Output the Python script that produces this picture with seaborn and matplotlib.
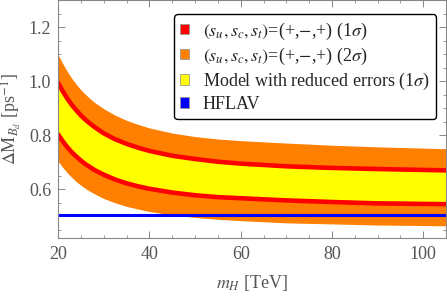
import numpy as np
import pandas as pd
import matplotlib
matplotlib.use("Agg")
import matplotlib.pyplot as plt
from matplotlib.patches import Patch
from matplotlib.ticker import MultipleLocator, FormatStrFormatter
import seaborn as sns

# values (m_H in TeV, Delta M_Bd in ps^-1)
m_H = [20, 21, 22, 23, 24, 25, 26, 27, 28, 30, 32.5, 35, 37.5, 40, 45, 50, 55, 60, 70, 80, 90, 105]
band2_upper = [1.098, 1.065, 1.036, 1.010, 0.988, 0.968, 0.951, 0.935, 0.921, 0.898, 0.874, 0.855,
               0.840, 0.827, 0.808, 0.795, 0.786, 0.780, 0.771, 0.763, 0.757, 0.750]
band1_upper = [0.994, 0.963, 0.936, 0.912, 0.892, 0.873, 0.857, 0.843, 0.830, 0.807, 0.785, 0.768,
               0.754, 0.742, 0.724, 0.712, 0.702, 0.695, 0.685, 0.679, 0.675, 0.670]
band1_lower = [0.803, 0.778, 0.756, 0.737, 0.721, 0.706, 0.693, 0.682, 0.671, 0.654, 0.636, 0.622,
               0.611, 0.602, 0.588, 0.578, 0.571, 0.567, 0.559, 0.553, 0.548, 0.545]
band2_lower = [0.704, 0.681, 0.661, 0.644, 0.628, 0.615, 0.603, 0.592, 0.583, 0.566, 0.550, 0.537,
               0.527, 0.518, 0.505, 0.496, 0.489, 0.484, 0.476, 0.472, 0.468, 0.465]
hflav = 0.5065

legend_labels = [
    r"$(s_u, s_c, s_t)$=(+,$-$,+) (1$\sigma$)",
    r"$(s_u, s_c, s_t)$=(+,$-$,+) (2$\sigma$)",
    r"Model with reduced errors (1$\sigma$)",
    "HFLAV",
]
colors = ["#ff0000", "#ff8000", "#ffff00", "#0000ff"]

df = pd.DataFrame({"m_H": m_H, "up2": band2_upper, "up1": band1_upper,
                   "lo1": band1_lower, "lo2": band2_lower})
lines = df.melt(id_vars="m_H", value_vars=["up1", "lo1"], var_name="edge", value_name="dM")

sns.set_theme(style="ticks")
plt.rcParams["font.family"] = "serif"
plt.rcParams["font.serif"] = ["Liberation Serif", "DejaVu Serif"]
plt.rcParams["mathtext.fontset"] = "stix"

fig = plt.figure(figsize=(4.47, 2.96), dpi=100)
ax = fig.add_axes([0.130, 0.196, 0.868, 0.804])

ax.fill_between(df["m_H"], df["lo2"], df["up2"], color=colors[1], lw=0)
ax.fill_between(df["m_H"], df["lo1"], df["up1"], color=colors[2], lw=0)
sns.lineplot(data=lines, x="m_H", y="dM", units="edge", estimator=None,
             color=colors[0], lw=3.3, ax=ax)
ax.axhline(hflav, color=colors[3], lw=2.2)

ax.set_xlim(20, 105)
ax.set_ylim(0.42, 1.30)
ax.xaxis.set_major_locator(MultipleLocator(20))
ax.xaxis.set_minor_locator(MultipleLocator(5))
ax.yaxis.set_major_locator(MultipleLocator(0.2))
ax.yaxis.set_minor_locator(MultipleLocator(0.05))
ax.yaxis.set_major_formatter(FormatStrFormatter("%.1f"))

grey = "#555555"
for s in ax.spines.values():
    s.set_color("#888888")
    s.set_linewidth(0.8)
ax.tick_params(which="both", direction="in", top=True, right=True,
               color="#888888", labelcolor=grey, labelsize=13)
ax.tick_params(axis="x", pad=6)
ax.tick_params(axis="y", pad=5)
ax.tick_params(which="major", length=5, width=0.7)
ax.tick_params(which="minor", length=2.5, width=0.6)

ax.set_xlabel(r"$m_H$ [TeV]", color=grey, fontsize=13, labelpad=7)
ax.set_ylabel(r"$\Delta$M$_{B_d}$ [ps$^{-1}$]", color=grey, fontsize=13, labelpad=4)

handles = [Patch(facecolor=c, edgecolor="#999999", lw=0.6) for c in colors]
leg = ax.legend(handles, legend_labels, loc="upper right", bbox_to_anchor=(0.975, 0.94),
                fontsize=13, frameon=True, fancybox=True, framealpha=1,
                handlelength=0.5, handleheight=0.5, handletextpad=0.75,
                labelspacing=0.22, borderpad=0.35, borderaxespad=0)
leg.get_frame().set_edgecolor("black")
leg.get_frame().set_linewidth(1.0)

fig.savefig("out.png", dpi=100)
plt.close(fig)
